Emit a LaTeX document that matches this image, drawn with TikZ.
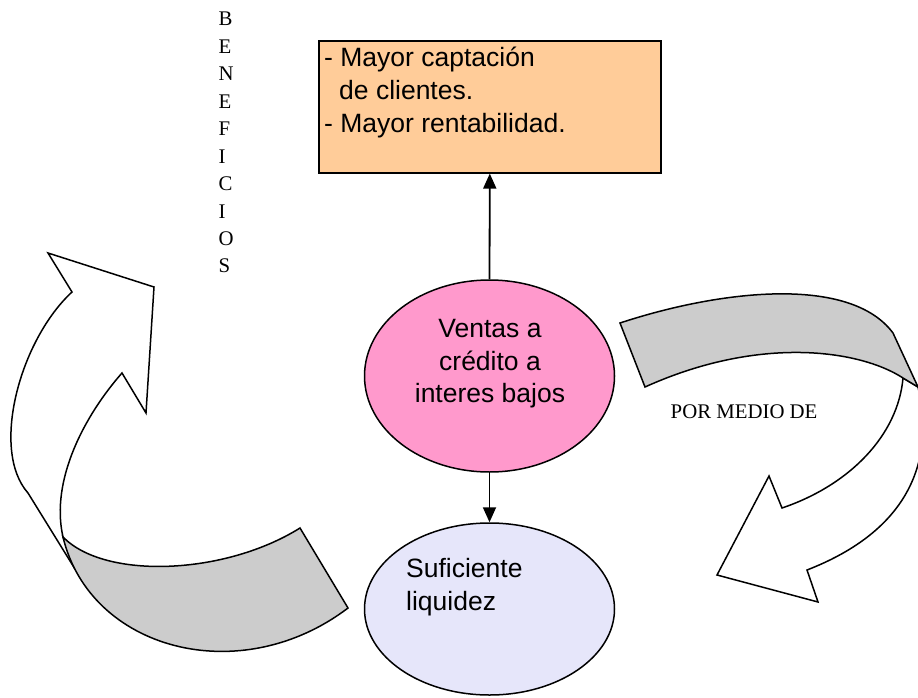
\documentclass[tikz,border=0pt]{standalone}
\usepackage{fontspec}
\setmainfont{Liberation Serif}
\newfontfamily\arialfont{Liberation Sans}
\usetikzlibrary{shapes.geometric, arrows.meta}

\definecolor{boxpeach}{HTML}{FFCC99}
\definecolor{pinkfill}{HTML}{FF99CC}
\definecolor{lavfill}{HTML}{E6E6FA}
\definecolor{bandgray}{HTML}{CCCCCC}

\begin{document}
\begin{tikzpicture}[x=1pt, y=-1pt,
  outline/.style={draw=black, line width=1.5pt, line join=miter},
  bandfill/.style={outline, fill=bandgray},
  sans/.style={font=\arialfont\fontsize{26.5}{33}\selectfont, inner sep=0pt},
  serif/.style={font=\fontsize{20.8}{25}\selectfont, inner sep=0pt},
  link/.style={line width=1.8pt, -{Triangle[length=15pt, width=13pt]}},
  bubble/.style={ellipse, draw=black, line width=1.5pt, inner sep=0pt, minimum width=250pt},
]
\useasboundingbox (0,0) rectangle (918,698);

% benefits box
\node[draw=black, fill=boxpeach, line width=1.6pt, inner sep=0pt,
      minimum width=342pt, minimum height=132pt, anchor=north west] (benef) at (318,40) {};
\node[sans, anchor=base west] (b1) at (324,67) {- Mayor captación};
\node[sans, anchor=base west] (b2) at (339,100) {de clientes.};
\node[sans, anchor=base west] (b3) at (324,132.5) {- Mayor rentabilidad.};

% central ellipse
\node[bubble, fill=pinkfill, minimum height=192pt] (ventas) at (489.5,376) {};
\node[sans, anchor=base] (v1) at (490,337) {Ventas a};
\node[sans, anchor=base] (v2) at (490,370) {crédito a};
\node[sans, anchor=base] (v3) at (490,402.5) {interes bajos};

% lower ellipse
\node[bubble, fill=lavfill, minimum height=172pt] (liq) at (489.5,609) {};
\node[sans, anchor=base west] (l1) at (406,577) {Suficiente};
\node[sans, anchor=base west] (l2) at (406,610) {liquidez};

% connectors
\draw[link] (ventas.north) -- (benef.south);
\draw[link] (ventas.south) -- (liq.north);

% vertical label
\foreach \ch [count=\i from 0] in {B,E,N,E,F,I,C,I,O,S}
  \node[serif, anchor=base west] (ben\i) at (218.5, 26+27.44*\i) {\ch};

% side label
\node[serif, anchor=base west] (medio) at (670.5,418) {POR MEDIO DE};

% left curved arrow: white body
\draw[outline, fill=white]
  (72,292) .. controls (20,340) and (-10,450) .. (28,493)
  -- (75,569) -- (63,537)
  .. controls (50,480) and (85,415) .. (122,373)
  -- (146,413) -- (154,287) -- (48,253) -- cycle;
% left curved arrow: grey band
\draw[bandfill]
  (63,537) .. controls (105,580) and (225,575) .. (300,528)
  -- (348,608) .. controls (240,690) and (90,650) .. (63,537) -- cycle;

% right curved arrow: white body
\draw[outline, fill=white]
  (918,387) .. controls (935,460) and (910,530) .. (807,570)
  -- (818,602) -- (717,575) -- (769,476) -- (782,508)
  .. controls (850,485) and (898,435) .. (903,378) -- cycle;
% right curved arrow: grey band
\draw[bandfill]
  (620,323) .. controls (720,290) and (850,275) .. (893,333)
  -- (918,387) -- (903,378)
  .. controls (860,350) and (760,335) .. (645,387) -- cycle;
\end{tikzpicture}
\end{document}
